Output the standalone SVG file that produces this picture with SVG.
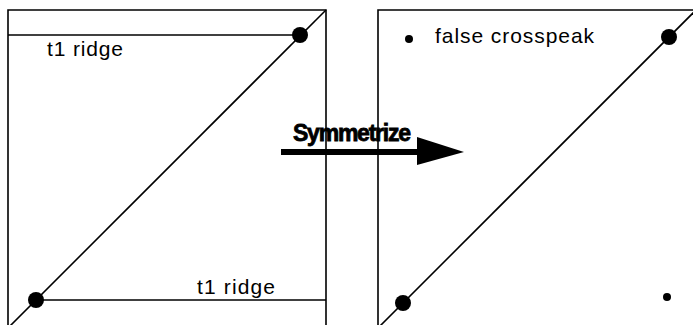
<svg xmlns="http://www.w3.org/2000/svg" width="693" height="325" viewBox="0 0 693 325">
<style>
.ln{stroke:#000;stroke-width:1.6;fill:none}
.dot{fill:#000}
.lbl{font-family:"Liberation Sans",Arial,sans-serif;font-size:21px;fill:#000}
.arr{font-family:"Liberation Sans",Arial,sans-serif;font-size:23px;font-weight:bold;fill:#000;stroke:#000;stroke-width:0.8}
</style>
<rect width="693" height="325" fill="#fff"/>
<g id="left-panel">
<path class="ln" d="M8,330 V10 H326 V330"/>
<line class="ln" x1="326" y1="10" x2="-5" y2="341"/>
<line class="ln" x1="8" y1="35" x2="300" y2="35"/>
<line class="ln" x1="36" y1="300" x2="326" y2="300"/>
<circle class="dot" cx="300" cy="35" r="8"/>
<circle class="dot" cx="36" cy="300" r="8"/>
<text class="lbl" x="47" y="56" textLength="76">t1 ridge</text>
<text class="lbl" x="197" y="294" textLength="78">t1 ridge</text>
</g>
<g id="right-panel">
<path class="ln" d="M378,330 V10 H696 V330"/>
<line class="ln" x1="696" y1="10" x2="370" y2="336"/>
<circle class="dot" cx="669" cy="37" r="8"/>
<circle class="dot" cx="403" cy="303" r="8"/>
<circle class="dot" cx="409" cy="39" r="4"/>
<circle class="dot" cx="667" cy="297" r="4"/>
<text class="lbl" x="435" y="43" textLength="159">false crosspeak</text>
</g>
<g id="connectors">
<line x1="281" y1="152" x2="420" y2="152" stroke="#000" stroke-width="6"/>
<polygon points="417,137 464,152 417,165" fill="#000"/>
<text class="arr" x="293" y="141" textLength="118">Symmetrize</text>
</g>
</svg>
